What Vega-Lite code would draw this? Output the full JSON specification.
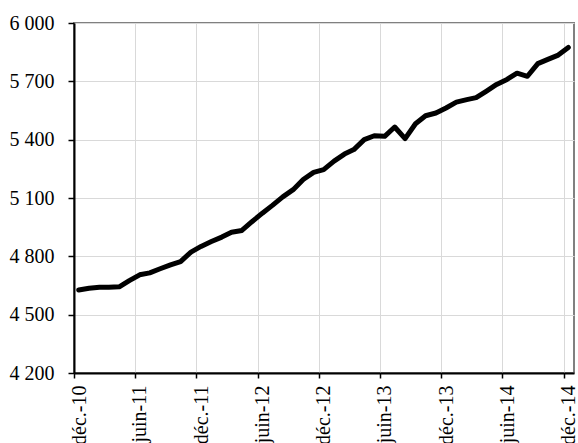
{
  "$schema": "https://vega.github.io/schema/vega-lite/v6.json",
  "width": 500,
  "height": 350,
  "autosize": "none",
  "padding": {"left": 74, "top": 23, "right": 4, "bottom": 70},
  "background": "white",
  "config": {
    "font": "Liberation Serif",
    "view": {"stroke": "#808080", "strokeWidth": 2},
    "axis": {
      "labelFont": "Liberation Serif",
      "labelFontSize": 20,
      "labelColor": "black",
      "gridColor": "#d9d9d9",
      "gridWidth": 1,
      "domainColor": "black",
      "domainWidth": 2,
      "tickColor": "black",
      "tickWidth": 1.5,
      "tickSize": 5
    }
  },
  "data": {
    "values": [
      {"date": "2010-12-15T00:00:00", "value": 4627},
      {"date": "2011-01-15T00:00:00", "value": 4636},
      {"date": "2011-02-15T00:00:00", "value": 4641},
      {"date": "2011-03-15T00:00:00", "value": 4641},
      {"date": "2011-04-15T00:00:00", "value": 4643},
      {"date": "2011-05-15T00:00:00", "value": 4675},
      {"date": "2011-06-15T00:00:00", "value": 4705},
      {"date": "2011-07-15T00:00:00", "value": 4715},
      {"date": "2011-08-15T00:00:00", "value": 4736},
      {"date": "2011-09-15T00:00:00", "value": 4756},
      {"date": "2011-10-15T00:00:00", "value": 4773},
      {"date": "2011-11-15T00:00:00", "value": 4822},
      {"date": "2011-12-15T00:00:00", "value": 4851},
      {"date": "2012-01-15T00:00:00", "value": 4876},
      {"date": "2012-02-15T00:00:00", "value": 4899},
      {"date": "2012-03-15T00:00:00", "value": 4924},
      {"date": "2012-04-15T00:00:00", "value": 4933},
      {"date": "2012-05-15T00:00:00", "value": 4978},
      {"date": "2012-06-15T00:00:00", "value": 5022},
      {"date": "2012-07-15T00:00:00", "value": 5062},
      {"date": "2012-08-15T00:00:00", "value": 5106},
      {"date": "2012-09-15T00:00:00", "value": 5143},
      {"date": "2012-10-15T00:00:00", "value": 5195},
      {"date": "2012-11-15T00:00:00", "value": 5232},
      {"date": "2012-12-15T00:00:00", "value": 5246},
      {"date": "2013-01-15T00:00:00", "value": 5290},
      {"date": "2013-02-15T00:00:00", "value": 5326},
      {"date": "2013-03-15T00:00:00", "value": 5349},
      {"date": "2013-04-15T00:00:00", "value": 5400},
      {"date": "2013-05-15T00:00:00", "value": 5420},
      {"date": "2013-06-15T00:00:00", "value": 5417},
      {"date": "2013-07-15T00:00:00", "value": 5465},
      {"date": "2013-08-15T00:00:00", "value": 5405},
      {"date": "2013-09-15T00:00:00", "value": 5482},
      {"date": "2013-10-15T00:00:00", "value": 5523},
      {"date": "2013-11-15T00:00:00", "value": 5537},
      {"date": "2013-12-15T00:00:00", "value": 5563},
      {"date": "2014-01-15T00:00:00", "value": 5593},
      {"date": "2014-02-15T00:00:00", "value": 5606},
      {"date": "2014-03-15T00:00:00", "value": 5616},
      {"date": "2014-04-15T00:00:00", "value": 5650},
      {"date": "2014-05-15T00:00:00", "value": 5684},
      {"date": "2014-06-15T00:00:00", "value": 5710},
      {"date": "2014-07-15T00:00:00", "value": 5742},
      {"date": "2014-08-15T00:00:00", "value": 5726},
      {"date": "2014-09-15T00:00:00", "value": 5791},
      {"date": "2014-10-15T00:00:00", "value": 5813},
      {"date": "2014-11-15T00:00:00", "value": 5835},
      {"date": "2014-12-15T00:00:00", "value": 5874}
    ]
  },
  "mark": {"type": "line", "color": "black", "strokeWidth": 5, "strokeCap": "round", "strokeJoin": "round"},
  "encoding": {
    "x": {
      "field": "date",
      "type": "temporal",
      "title": null,
      "scale": {
        "domain": [
          {"year": 2010, "month": 12, "date": 1},
          {"year": 2015, "month": 1, "date": 1}
        ]
      },
      "axis": {
        "values": [
          {"year": 2010, "month": 12, "date": 1},
          {"year": 2011, "month": 6, "date": 1},
          {"year": 2011, "month": 12, "date": 1},
          {"year": 2012, "month": 6, "date": 1},
          {"year": 2012, "month": 12, "date": 1},
          {"year": 2013, "month": 6, "date": 1},
          {"year": 2013, "month": 12, "date": 1},
          {"year": 2014, "month": 6, "date": 1},
          {"year": 2014, "month": 12, "date": 1}
        ],
        "labelExpr": "(month(datum.value) == 11 ? 'déc.-' : 'juin-') + timeFormat(datum.value, '%y')",
        "labelAngle": -90,
        "labelAlign": "right",
        "labelBaseline": "middle",
        "labelOffset": 5,
        "labelPadding": 7,
        "labelOverlap": false,
        "labelBound": false,
        "labelFlush": false
      }
    },
    "y": {
      "field": "value",
      "type": "quantitative",
      "title": null,
      "scale": {"domain": [4200, 6000], "nice": false, "zero": false},
      "axis": {
        "values": [4200, 4500, 4800, 5100, 5400, 5700, 6000],
        "labelExpr": "replace(format(datum.value, ','), ',', ' ')",
        "labelPadding": 14,
        "tickSize": 6
      }
    }
  }
}
